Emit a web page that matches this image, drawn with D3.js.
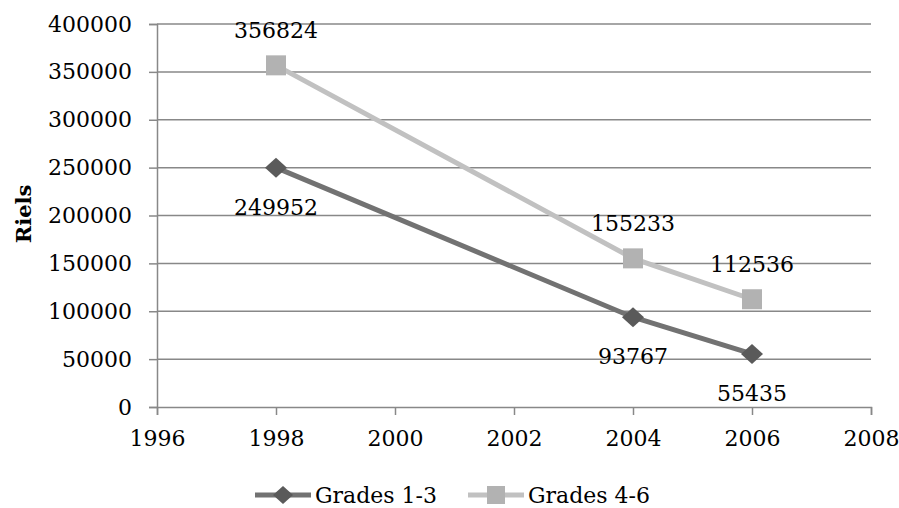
<!DOCTYPE html>
<html>
<head>
<meta charset="utf-8">
<script src="https://cdn.jsdelivr.net/npm/d3@7"></script>
<style>
  body { margin: 0; background: #fff; }
  svg text { font-family: "DejaVu Serif", "Liberation Serif", serif; fill: #000; }
</style>
</head>
<body>
<div class="canvas"></div>
<script>
// data
const years = [1998, 2004, 2006]
const grades13 = [249952, 93767, 55435]
const grades46 = [356824, 155233, 112536]
const seriesNames = ['Grades 1-3', 'Grades 4-6']
const xTicks = [1996, 1998, 2000, 2002, 2004, 2006, 2008]
const yTicks = [0, 50000, 100000, 150000, 200000, 250000, 300000, 350000, 400000]

const dims = { width: 899, height: 508 }
const plot = { left: 157, right: 871, top: 24, bottom: 407 }
const fontSize = '22px'

const svg = d3.select('.canvas')
  .append('svg')
  .attr('width', dims.width)
  .attr('height', dims.height)

const x = d3.scaleLinear().domain([1996, 2008]).range([plot.left, plot.right])
const y = d3.scaleLinear().domain([0, 400000]).range([plot.bottom, plot.top])

const gridColor = '#888888'

// horizontal gridlines
svg.append('g')
  .selectAll('line')
  .data(yTicks.filter(d => d > 0))
  .enter().append('line')
    .attr('x1', plot.left).attr('x2', plot.right)
    .attr('y1', d => y(d)).attr('y2', d => y(d))
    .attr('stroke', gridColor).attr('stroke-width', 1.5)

// y axis
const yAxis = svg.append('g')
  .attr('transform', `translate(${plot.left}, 0)`)
  .call(d3.axisLeft(y).tickValues(yTicks).tickSize(8).tickPadding(17).tickFormat(d3.format('d')))
yAxis.select('.domain').attr('stroke', gridColor).attr('stroke-width', 1.5)
yAxis.selectAll('line').attr('stroke', gridColor).attr('stroke-width', 1.5)
yAxis.selectAll('text').style('font-size', fontSize)

// x axis
const xAxis = svg.append('g')
  .attr('transform', `translate(0, ${plot.bottom})`)
  .call(d3.axisBottom(x).tickValues(xTicks).tickSize(8).tickPadding(15).tickFormat(d3.format('d')))
xAxis.select('.domain').attr('stroke', gridColor).attr('stroke-width', 1.5)
xAxis.selectAll('line').attr('stroke', gridColor).attr('stroke-width', 1.5)
xAxis.selectAll('text').style('font-size', fontSize)

// y axis title
svg.append('text')
  .attr('transform', `translate(31, 214) rotate(-90)`)
  .attr('text-anchor', 'middle')
  .style('font-size', '21px')
  .style('font-weight', 'bold')
  .text('Riels')

const series = [
  { name: seriesNames[0], values: grades13, line: '#727272', mark: '#5a5a5a', shape: 'diamond', labelDy: 47 },
  { name: seriesNames[1], values: grades46, line: '#c1c1c1', mark: '#b2b2b2', shape: 'square', labelDy: -27 }
]

const line = d3.line()
  .x((d, i) => x(years[i]))
  .y(d => y(d))

const drawMarker = (g, shape, color, half) => {
  if (shape === 'diamond') {
    g.append('path').attr('d', `M0,${-half}L${half + 1},0L0,${half}L${-half - 1},0Z`).attr('fill', color)
  } else {
    g.append('rect').attr('x', -half).attr('y', -half).attr('width', half * 2).attr('height', half * 2).attr('fill', color)
  }
}

series.forEach(s => {
  svg.append('path')
    .datum(s.values)
    .attr('d', line)
    .attr('fill', 'none')
    .attr('stroke', s.line)
    .attr('stroke-width', 5)

  s.values.forEach((v, i) => {
    const g = svg.append('g').attr('transform', `translate(${x(years[i])}, ${y(v)})`)
    drawMarker(g, s.shape, s.mark, 10)
  })

  s.values.forEach((v, i) => {
    svg.append('text')
      .attr('x', x(years[i]))
      .attr('y', y(v) + s.labelDy)
      .attr('text-anchor', 'middle')
      .style('font-size', fontSize)
      .text(v)
  })
})

// legend
const legendY = 495
const legendItems = [
  { s: series[0], x: 255 },
  { s: series[1], x: 468 }
]
legendItems.forEach(({ s, x: lx }) => {
  svg.append('line')
    .attr('x1', lx).attr('x2', lx + 56)
    .attr('y1', legendY).attr('y2', legendY)
    .attr('stroke', s.line).attr('stroke-width', 5)
  const g = svg.append('g').attr('transform', `translate(${lx + 28}, ${legendY})`)
  drawMarker(g, s.shape, s.mark, 9)
  svg.append('text')
    .attr('x', lx + 60)
    .attr('y', legendY + 8)
    .style('font-size', fontSize)
    .text(s.name)
})
</script>
</body>
</html>
